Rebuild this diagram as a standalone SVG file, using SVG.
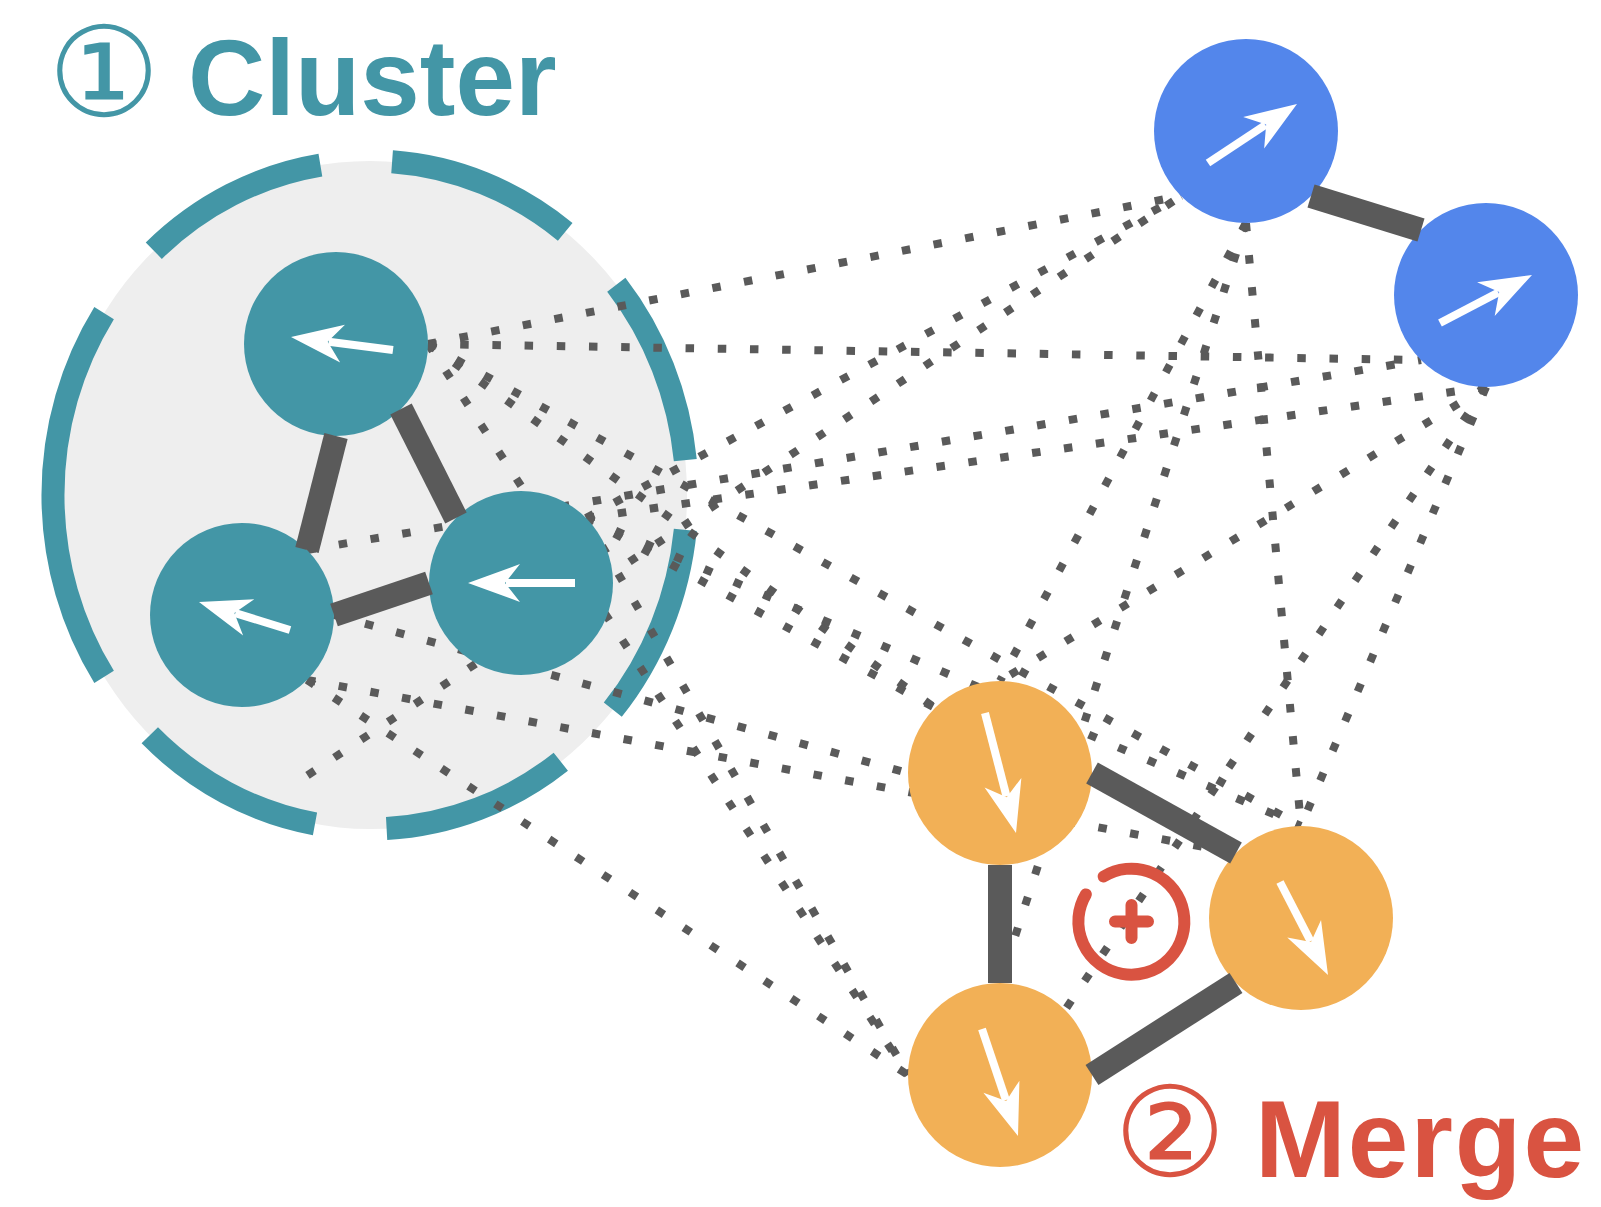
<svg xmlns="http://www.w3.org/2000/svg" width="1601" height="1207" viewBox="0 0 1601 1207">
<defs>
<style>
.dot{fill:none;stroke:#5a5a5a;stroke-width:8;stroke-dasharray:8.5 23.7}
.solid{fill:none;stroke:#5a5a5a;stroke-width:24;stroke-linecap:butt}
.arc{fill:none;stroke:#4396a6;stroke-width:23;stroke-linecap:butt}
.teal{fill:#4396a6}
.blue{fill:#5386eb}
.orange{fill:#f2b056}
.shaft{stroke:#ffffff;stroke-width:8;stroke-linecap:butt}
.head{fill:#ffffff}
.red{fill:none;stroke:#d95341;stroke-width:12;stroke-linecap:round}
.num{font-family:'DejaVu Sans',sans-serif;text-anchor:middle}
.word{font-family:'Liberation Sans',Arial,sans-serif;font-weight:bold}
</style>
<path id="ah" d="M0,0 L-52,-19 L-37,0 L-52,19 Z"/>
</defs>
<rect width="1601" height="1207" fill="#ffffff"/>

<g id="cluster-region">
<ellipse cx="370" cy="495" rx="317" ry="334" fill="#eeeeee"/>
<path class="arc" d="M153.8,250.7 A317,334 0 0 1 320.4,165.1"/>
<path class="arc" d="M392.1,161.8 A317,334 0 0 1 565.2,231.8"/>
<path class="arc" d="M616.3,284.8 A317,334 0 0 1 685.3,460.1"/>
<path class="arc" d="M685.3,529.9 A317,334 0 0 1 612.8,709.7"/>
<path class="arc" d="M560.8,761.7 A317,334 0 0 1 386.6,828.5"/>
<path class="arc" d="M315.0,823.9 A317,334 0 0 1 149.8,735.3"/>
<path class="arc" d="M104.1,676.9 A317,334 0 0 1 104.1,313.1"/>
</g>

<g id="connectors">
<g id="dotted">
<path class="dot" d="M428,344 L1181,196"/>
<path class="dot" d="M428,344 L1421,360"/>
<path class="dot" d="M428,344 L935,708"/>
<path class="dot" d="M428,344 L1301,826"/>
<path class="dot" d="M428,344 L908,1075"/>
<path class="dot" d="M586,518 L1181,196"/>
<path class="dot" d="M307.5,775.3 L1181,196"/>
<path class="dot" d="M307,550 L1421,360"/>
<path class="dot" d="M586,518 L1486,387"/>
<path class="dot" d="M334,615 L908,773"/>
<path class="dot" d="M307,680 L1236,853"/>
<path class="dot" d="M307,680 L908,1075"/>
<path class="dot" d="M586,518 L935,708"/>
<path class="dot" d="M586,518 L1301,826"/>
<path class="dot" d="M586,518 L908,1075"/>
<path class="dot" d="M1246,223 L1000,681"/>
<path class="dot" d="M1246,223 L1301,826"/>
<path class="dot" d="M1246,223 L1000,983"/>
<path class="dot" d="M1486,387 L1000,681"/>
<path class="dot" d="M1486,387 L1301,826"/>
<path class="dot" d="M1486,387 L1065,1010"/>
</g>
</g>

<g id="node-t1"><circle class="teal" cx="336" cy="344" r="92"/></g>
<g id="node-t2"><circle class="teal" cx="242" cy="615" r="92"/></g>
<g id="node-t3"><circle class="teal" cx="521" cy="583" r="92"/></g>
<g id="node-b1"><circle class="blue" cx="1246" cy="131" r="92"/></g>
<g id="node-b2"><circle class="blue" cx="1486" cy="295" r="92"/></g>
<g id="node-o1"><circle class="orange" cx="1000" cy="773" r="92"/></g>
<g id="node-o2"><circle class="orange" cx="1301" cy="918" r="92"/></g>
<g id="node-o3"><circle class="orange" cx="1000" cy="1075" r="92"/></g>

<g id="solid-edges">
<line class="solid" x1="336" y1="436" x2="307" y2="550"/>
<line class="solid" x1="401" y1="409" x2="456" y2="518"/>
<line class="solid" x1="334" y1="615" x2="429" y2="583"/>
<line class="solid" x1="1311" y1="196" x2="1421" y2="230"/>
<line class="solid" x1="1000" y1="865" x2="1000" y2="983"/>
<line class="solid" x1="1092" y1="773" x2="1236" y2="853"/>
<line class="solid" x1="1092" y1="1075" x2="1236" y2="983"/>
</g>

<g id="arrows">
<g transform="translate(291,337) rotate(187.26)"><line class="shaft" x1="-102.8" y1="0" x2="-38" y2="0"/><use href="#ah" class="head"/></g>
<g transform="translate(199,602) rotate(197.1)"><line class="shaft" x1="-95.2" y1="0" x2="-38" y2="0"/><use href="#ah" class="head"/></g>
<g transform="translate(468,583) rotate(180)"><line class="shaft" x1="-107" y1="0" x2="-38" y2="0"/><use href="#ah" class="head"/></g>
<g transform="translate(1297,104) rotate(-33.55)"><line class="shaft" x1="-106.8" y1="0" x2="-38" y2="0"/><use href="#ah" class="head"/></g>
<g transform="translate(1532,275) rotate(-27.55)"><line class="shaft" x1="-103.8" y1="0" x2="-38" y2="0"/><use href="#ah" class="head"/></g>
<g transform="translate(1016,833) rotate(75.5)"><line class="shaft" x1="-123.9" y1="0" x2="-38" y2="0"/><use href="#ah" class="head"/></g>
<g transform="translate(1328,975) rotate(62.7)"><line class="shaft" x1="-104.7" y1="0" x2="-38" y2="0"/><use href="#ah" class="head"/></g>
<g transform="translate(1018,1136) rotate(71.4)"><line class="shaft" x1="-112.9" y1="0" x2="-38" y2="0"/><use href="#ah" class="head"/></g>
</g>

<g id="merge-symbol">
<path class="red" d="M1103.6,876.5 A53,53 0 1 1 1085.9,894.4"/>
<path class="red" d="M1131.5,905 V938 M1115,921.5 H1148"/>
</g>

<g id="title-cluster" fill="#4396a6">
<text class="num" x="104" y="116" font-size="125">①</text>
<text class="word" x="188" y="115" font-size="107">Cluster</text>
</g>
<g id="title-merge" fill="#d95341">
<text class="num" x="1170" y="1176" font-size="125">②</text>
<text class="word" x="1255" y="1177" font-size="109" letter-spacing="2">Merge</text>
</g>
</svg>
